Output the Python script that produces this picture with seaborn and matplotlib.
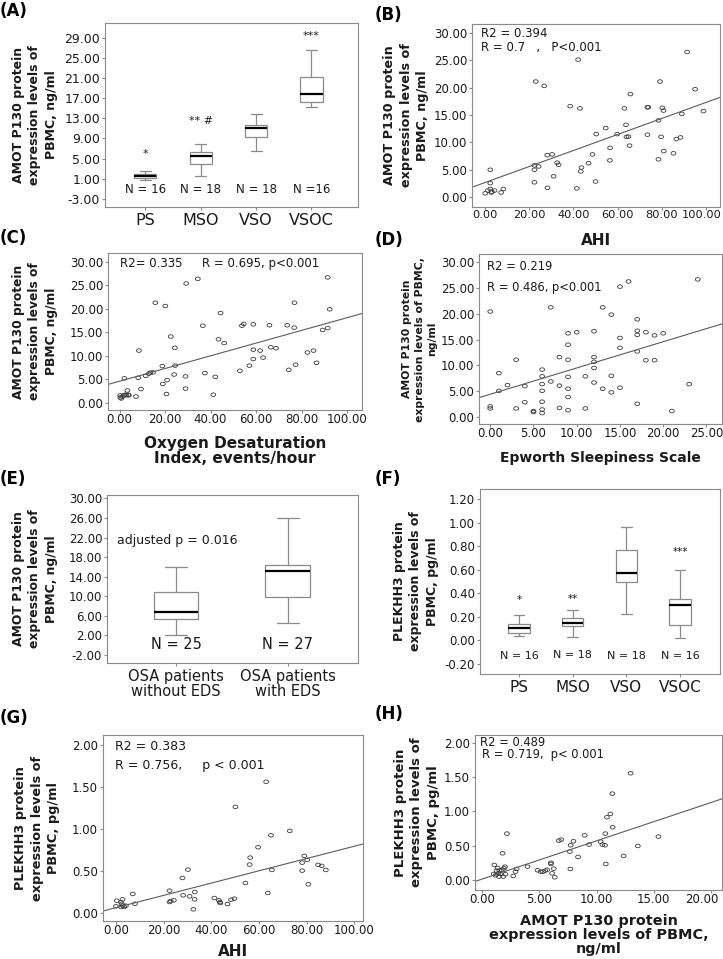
import numpy as np
import pandas as pd
import matplotlib
matplotlib.use('Agg')
import matplotlib.pyplot as plt
from matplotlib.path import Path
from matplotlib.ticker import FormatStrFormatter
from matplotlib.transforms import ScaledTranslation
import seaborn as sns

sns.set_theme(style='ticks')
plt.rcParams['font.family'] = ['DejaVu Sans']

W, H = 723, 959

# ---------------- data ----------------
# (A) AMOT P130 by group, five-number summaries
a_groups = ['PS', 'MSO', 'VSO', 'VSOC']
a_low = [0.7, 1.6, 6.6, 15.2]
a_q1 = [1.1, 3.9, 9.2, 16.2]
a_med = [1.5, 5.6, 11.0, 17.8]
a_q3 = [2.0, 6.3, 11.7, 21.1]
a_high = [2.5, 7.8, 13.9, 26.5]
a_n = ['N = 16', 'N = 18', 'N = 18', 'N =16']
a_yticks = [-3, 1, 5, 9, 13, 17, 21, 25, 29]

# (B) AHI vs AMOT P130
b_x = [2.3, 2.3, 0, 1.2, 2.3, 3.0, 2.7, 4.2, 7.2, 8.2, 22.9, 26.7, 42.1, 38.5, 42.9,
       22.3, 24.2, 22.3, 22.3, 28.1, 30.3, 32.6, 33.2, 31.0, 28.2, 41.5, 43.6, 43.3,
       46.8, 48.6, 50.3, 54.6, 59.8, 56.6, 56.5, 50.0, 63.1, 63.8, 65.8, 64.0, 64.9,
       65.4, 73.5, 73.9, 73.5, 79.2, 78.5, 80.3, 80.8, 79.7, 78.5, 80.9, 85.3, 86.6,
       88.5, 89.1, 91.5, 95.1, 98.9]
b_y = [5.0, 2.55, 0.7, 1.2, 1.5, 1.0, 0.85, 1.2, 0.85, 1.5, 21.1, 20.3, 25.1, 16.6, 16.2,
       5.8, 5.6, 5.0, 2.7, 7.65, 7.8, 6.3, 5.9, 3.8, 1.7, 1.6, 5.4, 4.7,
       6.2, 7.8, 11.5, 12.6, 11.5, 9.0, 6.7, 2.85, 16.2, 13.2, 18.8, 11.0, 11.05,
       9.4, 16.4, 16.4, 11.4, 21.1, 14.0, 16.3, 15.8, 11.0, 6.9, 8.4, 8.0, 10.6,
       10.9, 15.2, 26.5, 19.7, 15.7]

# (C) ODI vs AMOT P130
c_x = [0.3, 0.3, 0.7, 1.2, 1.8, 2.4, 2.9, 3.8, 3.4, 4.1, 7.2, 2.1, 8.5, 8.2, 9.4,
       11.5, 12.9, 13.5, 14.7, 15.7, 18.8, 19.0, 20.1, 20.9, 20.6, 22.5, 24.3, 24.4,
       24.0, 29.0, 29.0, 29.3, 34.4, 36.6, 37.5, 43.5, 44.4, 46.0, 42.1, 41.2, 52.9,
       53.8, 54.6, 58.8, 58.8, 58.8, 57.1, 61.8, 63.1, 66.5, 68.8, 65.9, 73.7, 76.8,
       76.9, 77.4, 74.4, 82.6, 85.3, 86.6, 89.3, 91.5, 91.5, 92.4]
c_y = [1.56, 1.1, 0.9, 1.3, 1.56, 1.7, 1.56, 1.7, 2.6, 1.56, 1.3, 5.2, 11.1, 5.3, 2.9,
       5.7, 6.2, 6.4, 6.45, 21.3, 7.8, 4.0, 20.6, 4.8, 1.84, 14.1, 11.7, 7.9,
       6.0, 5.6, 3.0, 25.4, 26.4, 16.4, 6.3, 13.5, 19.1, 12.7, 5.5, 1.7, 6.8,
       16.4, 16.8, 16.7, 11.3, 9.3, 7.9, 11.1, 9.6, 11.8, 11.6, 16.5, 16.5, 16.0,
       21.3, 8.1, 7.0, 10.7, 11.1, 8.5, 15.5, 26.7, 15.9, 19.9]

# (D) ESS vs AMOT P130
d_x = [0, 0, 0, 1, 1, 2, 3, 3, 4, 4, 5, 5, 6, 6, 6, 6, 6, 6, 6, 7, 7, 8, 8, 8,
       9, 9, 9, 9, 9, 9, 9, 10, 11, 11, 12, 12, 12, 12, 12, 13, 13, 14, 14, 14,
       15, 15, 15, 15, 16, 17, 17, 17, 17, 17, 18, 18, 19, 19, 20, 21, 23, 24]
d_y = [20.4, 2.1, 1.7, 8.5, 5.1, 6.2, 11.1, 1.7, 6.0, 2.9, 1.0, 1.2, 9.2, 7.9, 6.4,
       5.1, 3.0, 1.5, 0.8, 21.2, 6.9, 11.6, 6.1, 1.8, 16.2, 14.0, 11.1, 7.8, 5.5,
       3.9, 1.35, 16.4, 7.9, 1.7, 16.6, 11.6, 10.7, 9.5, 6.7, 21.2, 5.5, 19.8, 8.0,
       4.8, 25.2, 15.3, 13.4, 5.7, 26.2, 18.9, 16.7, 15.9, 12.7, 2.6, 16.4, 11.0,
       15.8, 11.0, 16.2, 1.2, 6.4, 26.6]

# (E) AMOT P130 by EDS status
e_groups = ['OSA patients\nwithout EDS', 'OSA patients\nwith EDS']
e_low = [2.0, 4.5]
e_q1 = [5.3, 9.8]
e_med = [6.7, 15.2]
e_q3 = [10.9, 16.4]
e_high = [16.0, 26.0]
e_n = ['N = 25', 'N = 27']
e_yticks = [-2, 2, 6, 10, 14, 18, 22, 26, 30]

# (F) PLEKHH3 by group
f_groups = ['PS', 'MSO', 'VSO', 'VSOC']
f_low = [0.038, 0.026, 0.224, 0.024]
f_q1 = [0.066, 0.125, 0.499, 0.131]
f_med = [0.104, 0.148, 0.576, 0.304]
f_q3 = [0.138, 0.194, 0.768, 0.352]
f_high = [0.213, 0.256, 0.964, 0.594]
f_n = ['N = 16', 'N = 18', 'N = 18', 'N = 16']
f_yticks = [-0.2, 0.0, 0.2, 0.4, 0.6, 0.8, 1.0, 1.2]

# (G) AHI vs PLEKHH3
g_x = [0, 0.4, 2.1, 2.5, 2.8, 2.1, 2.9, 3.5, 4.2, 7.1, 8.0, 22.5, 22.5, 23.0, 24.3,
       27.9, 28.2, 30.2, 30.9, 33.1, 33.0, 32.5, 41.3, 43.2, 43.6, 43.8, 46.8, 48.3,
       49.7, 50.1, 54.3, 56.3, 56.1, 59.6, 63.0, 63.7, 65.0, 65.4, 72.9, 78.1, 78.1,
       79.0, 80.2, 80.7, 84.8, 86.3, 88.0]
g_y = [0.08, 0.147, 0.13, 0.11, 0.163, 0.072, 0.087, 0.072, 0.087, 0.227, 0.11, 0.266,
       0.131, 0.143, 0.151, 0.417, 0.211, 0.517, 0.199, 0.25, 0.163, 0.044, 0.179,
       0.151, 0.131, 0.119, 0.107, 0.159, 0.171, 1.264, 0.358, 0.66, 0.577, 0.783,
       1.563, 0.239, 0.926, 0.513, 0.978, 0.6, 0.505, 0.68, 0.632, 0.342, 0.573,
       0.561, 0.513]

# (H) AMOT P130 vs PLEKHH3
h_x = [1.05, 1.25, 1.0, 1.16, 1.4, 1.5, 1.6, 1.7, 1.77, 1.83, 1.9, 1.98, 2.03, 2.15,
       1.34, 1.45, 2.7, 2.9, 3.0, 3.95, 4.83, 5.1, 5.3, 5.5, 5.67, 6.0, 6.0, 6.1,
       6.25, 6.34, 6.69, 6.9, 7.7, 7.65, 7.73, 7.97, 8.37, 8.95, 9.33, 10.35, 10.5,
       10.76, 10.73, 10.8, 10.9, 11.2, 11.4, 11.37, 12.35, 12.97, 13.6, 15.4]
h_y = [0.218, 0.136, 0.087, 0.068, 0.097, 0.136, 0.087, 0.146, 0.388, 0.049, 0.17,
       0.194, 0.083, 0.675, 0.175, 0.049, 0.058, 0.121, 0.16, 0.194, 0.141, 0.121,
       0.121, 0.136, 0.15, 0.25, 0.233, 0.097, 0.165, 0.039, 0.573, 0.587, 0.16,
       0.413, 0.505, 0.563, 0.335, 0.65, 0.515, 0.558, 0.515, 0.675, 0.505, 0.233,
       0.913, 0.961, 0.767, 1.257, 0.35, 1.553, 0.495, 0.631]

AMOT_LABEL = 'AMOT P130 protein\nexpression levels of\nPBMC, ng/ml'
PLEK_LABEL = 'PLEKHH3 protein\nexpression levels of\nPBMC, pg/ml'

EDGE = '#8a8a8a'
TXT = '#1a1a1a'

# slightly wide open ring, the original figure is stretched sideways
t = np.linspace(0, 2 * np.pi, 37)
ring = Path(np.column_stack([1.35 * np.cos(t), np.sin(t)]))


def px_axes(fig, left, top, right, bottom):
    return fig.add_axes([left / W, 1 - bottom / H, (right - left) / W, (bottom - top) / H])


def style_axes(ax):
    for s in ax.spines.values():
        s.set_visible(True)
        s.set_color(EDGE)
        s.set_linewidth(0.8)
    ax.tick_params(direction='out', length=2.5, width=0.8, color=EDGE,
                   labelsize=8.5, labelcolor=TXT, pad=1)
    ax.tick_params(axis='x', pad=0)
    ax.yaxis.set_major_formatter(FormatStrFormatter('%.2f'))


def set_ylab(ax, text, xpos, size=9):
    ax.set_ylabel(text, fontsize=size, fontweight='bold', linespacing=1.35, color=TXT)
    ax.yaxis.set_label_coords(xpos, 0.5)


def set_xlab(ax, text, ypos, size=11):
    ax.set_xlabel(text, fontsize=size, fontweight='bold', linespacing=1.0, color=TXT)
    ax.xaxis.set_label_coords(0.5, ypos)


def nudge_last_xlabel(ax, dx_px):
    # keep the right-most tick label inside the canvas
    lab = ax.get_xticklabels()[-1]
    lab.set_transform(lab.get_transform() + ScaledTranslation(dx_px / 100, 0, fig.dpi_scale_trans))


def box_panel(ax, groups, low, q1, med, q3, high):
    rows = []
    for g, *vals in zip(groups, low, q1, med, q3, high):
        for v in vals:
            rows.append({'group': g, 'value': v})
    df = pd.DataFrame(rows)
    sns.boxplot(data=df, x='group', y='value', order=groups, ax=ax, width=0.4,
                whis=(0, 100), color='white', linecolor=EDGE, linewidth=0.9,
                saturation=1, fliersize=0,
                medianprops={'color': 'black', 'linewidth': 1.6})
    ax.set_xlabel('')
    style_axes(ax)


def scatter_panel(ax, xs, ys, xlim, ylim, xticks, yticks):
    ax.set_xlim(xlim)
    ax.set_ylim(ylim)
    sns.regplot(x=np.array(xs), y=np.array(ys), ax=ax, ci=None, truncate=False,
                marker=ring, color='#3a3a3a',
                scatter_kws={'s': 12, 'facecolors': 'none', 'linewidths': 0.6, 'alpha': 1},
                line_kws={'color': '#5c5c5c', 'linewidth': 0.8})
    ax.set_xlim(xlim)
    ax.set_ylim(ylim)
    ax.set_xticks(xticks)
    ax.set_yticks(yticks)
    style_axes(ax)
    ax.xaxis.set_major_formatter(FormatStrFormatter('%.2f'))


fig = plt.figure(figsize=(W / 100, H / 100), dpi=100)
fig.patch.set_facecolor('white')

# ---- (A)
ax = px_axes(fig, 105, 23, 358, 207)
box_panel(ax, a_groups, a_low, a_q1, a_med, a_q3, a_high)
ax.set_xlim(-0.73, 3.84)
ax.set_ylim(-4.6, 31.9)
ax.set_yticks(a_yticks)
ax.tick_params(axis='y', labelsize=9)
ax.tick_params(axis='x', labelsize=11.5, pad=2)
set_ylab(ax, AMOT_LABEL, -0.186)
for i, lab in enumerate(a_n):
    ax.text(i, -1.2, lab, ha='center', va='center', fontsize=8.5, color=TXT)
ax.text(0, 5.9, '*', ha='center', va='center', fontsize=8, color=TXT)
ax.text(1, 12.4, '** #', ha='center', va='center', fontsize=8, color=TXT)
ax.text(3, 29.4, '***', ha='center', va='center', fontsize=8, color=TXT)

# ---- (B)
ax = px_axes(fig, 472, 24, 720, 207)
scatter_panel(ax, b_x, b_y, (-6, 106.4), (-1.8, 31.6), [0, 20, 40, 60, 80, 100],
              [0, 5, 10, 15, 20, 25, 30])
ax.tick_params(axis='x', labelsize=8.2)
nudge_last_xlabel(ax, -4)
set_ylab(ax, AMOT_LABEL, -0.173, 9.2)
set_xlab(ax, 'AHI', -0.142, 11)
ax.text(0.0375, 0.949, 'R2 = 0.394', transform=ax.transAxes, va='center', fontsize=8.5, color=TXT)
ax.text(0.0375, 0.870, 'R = 0.7   ,   P<0.001', transform=ax.transAxes, va='center',
        fontsize=8.5, color=TXT)

# ---- (C)
ax = px_axes(fig, 108, 253, 362, 410)
scatter_panel(ax, c_x, c_y, (-5.1, 106.6), (-1.56, 31.9), [0, 20, 40, 60, 80, 100],
              [0, 5, 10, 15, 20, 25, 30])
set_ylab(ax, AMOT_LABEL, -0.197, 8.8)
set_xlab(ax, 'Oxygen Desaturation\nIndex, events/hour', -0.165, 11)
ax.text(0.047, 0.936, 'R2= 0.335', transform=ax.transAxes, va='center', fontsize=8.5, color=TXT)
ax.text(0.369, 0.936, 'R = 0.695, p<0.001', transform=ax.transAxes, va='center',
        fontsize=8.5, color=TXT)

# ---- (D)
ax = px_axes(fig, 479, 254, 722, 424)
scatter_panel(ax, d_x, d_y, (-1.3, 26.8), (-1.3, 31.5), [0, 5, 10, 15, 20, 25],
              [0, 5, 10, 15, 20, 25, 30])
set_ylab(ax, 'AMOT P130 protein\nexpression levels of PBMC,\nng/ml', -0.171, 7.8)
set_xlab(ax, 'Epworth Sleepiness Scale', -0.157, 10)
ax.text(0.034, 0.925, 'R2 = 0.219', transform=ax.transAxes, va='center', fontsize=8.3, color=TXT)
ax.text(0.034, 0.804, 'R = 0.486, p<0.001', transform=ax.transAxes, va='center',
        fontsize=8.3, color=TXT)

# ---- (E)
ax = px_axes(fig, 107, 495, 358, 663)
box_panel(ax, e_groups, e_low, e_q1, e_med, e_q3, e_high)
ax.set_xlim(-0.62, 1.63)
ax.set_ylim(-3.63, 30.68)
ax.set_yticks(e_yticks)
ax.tick_params(axis='x', labelsize=10.5, pad=2)
for tl in ax.get_xticklabels():
    tl.set_linespacing(1.0)
set_ylab(ax, AMOT_LABEL, -0.196, 8.9)
for i, lab in enumerate(e_n):
    ax.text(i, 0.1, lab, ha='center', va='center', fontsize=10.5, color=TXT)
ax.text(0.04, 0.731, 'adjusted p = 0.016', transform=ax.transAxes, va='center',
        fontsize=9, color=TXT)

# ---- (F)
ax = px_axes(fig, 480, 489, 720, 674)
box_panel(ax, f_groups, f_low, f_q1, f_med, f_q3, f_high)
ax.set_xlim(-0.727, 3.745)
ax.set_ylim(-0.285, 1.285)
ax.set_yticks(f_yticks)
ax.tick_params(axis='x', labelsize=11, pad=2)
set_ylab(ax, PLEK_LABEL, -0.172, 9)
for i, lab in enumerate(f_n):
    ax.text(i, -0.12 if i == 1 else -0.129, lab, ha='center', va='center', fontsize=8, color=TXT)
ax.text(0, 0.345, '*', ha='center', va='center', fontsize=7.5, color=TXT)
ax.text(1, 0.355, '**', ha='center', va='center', fontsize=7.5, color=TXT)
ax.text(3, 0.75, '***', ha='center', va='center', fontsize=7.5, color=TXT)

# ---- (G)
ax = px_axes(fig, 103, 735, 363, 921)
scatter_panel(ax, g_x, g_y, (-5.4, 103.6), (-0.095, 2.12), [0, 20, 40, 60, 80, 100],
              [0, 0.5, 1.0, 1.5, 2.0])
set_ylab(ax, PLEK_LABEL, -0.164, 9.3)
set_xlab(ax, 'AHI', -0.122, 11)
ax.text(0.047, 0.937, 'R2 = 0.383', transform=ax.transAxes, va='center', fontsize=9, color=TXT)
ax.text(0.047, 0.838, 'R = 0.756,     p < 0.001', transform=ax.transAxes, va='center',
        fontsize=9, color=TXT)

# ---- (H)
ax = px_axes(fig, 475, 735, 722, 890)
scatter_panel(ax, h_x, h_y, (-0.64, 20.96), (-0.146, 2.11), [0, 5, 10, 15, 20],
              [0, 0.5, 1.0, 1.5, 2.0])
nudge_last_xlabel(ax, -9)
set_ylab(ax, PLEK_LABEL, -0.1425, 9.5)
set_xlab(ax, 'AMOT P130 protein\nexpression levels of PBMC,\nng/ml', -0.157, 10.4)
ax.text(0.02, 0.95, 'R2 = 0.489', transform=ax.transAxes, va='center', fontsize=8.3, color=TXT)
ax.text(0.03, 0.871, 'R = 0.719,  p< 0.001', transform=ax.transAxes, va='center',
        fontsize=8.3, color=TXT)

# panel letters
for lab, x, y in [('(A)', 0, 2), ('(B)', 375, 6), ('(C)', 0, 229), ('(D)', 375, 231),
                  ('(E)', 0, 470), ('(F)', 375, 470), ('(G)', 0, 709), ('(H)', 375, 705)]:
    fig.text(x / W, 1 - y / H, lab, ha='left', va='top', fontsize=12,
             fontweight='bold', color='black')

fig.savefig('out.png', dpi=100, facecolor='white')
